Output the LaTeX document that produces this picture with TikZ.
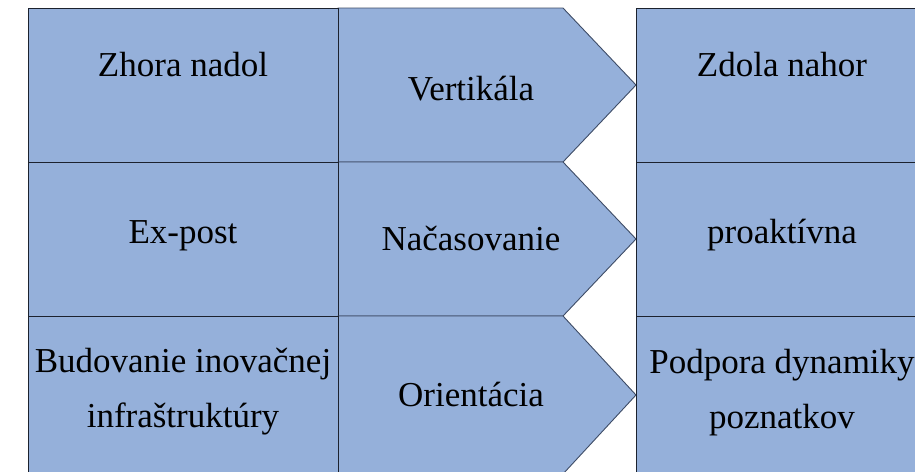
\documentclass[tikz,border=0pt]{standalone}
\usepackage{fontspec}
\setmainfont{Liberation Serif}
\definecolor{cellfill}{RGB}{149,176,218}
\definecolor{cellline}{RGB}{28,34,46}
\definecolor{chevronline}{RGB}{62,76,102}
\tikzset{
  cell/.style={fill=cellfill, draw=cellline, line width=0.9pt},
  chevron/.style={fill=cellfill, draw=chevronline, line width=0.9pt},
  txt/.style={font=\fontsize{35}{55}\selectfont, align=center, inner sep=0pt, anchor=base}
}
\begin{document}
\begin{tikzpicture}[x=1pt,y=-1pt]
      \clip (0,0) rectangle (915,471);
      \foreach \ytop/\ybot in {8/162,162/316,316/474}{
        \pgfmathsetmacro{\ymid}{(\ytop+\ybot)/2}
        \draw[chevron] (338,\ytop) -- (563,\ytop) -- (636,\ymid) -- (563,\ybot) -- (338,\ybot) -- cycle;
        \draw[cell] (28,\ytop) rectangle (338,\ybot);
        \draw[cell] (636,\ytop) rectangle (930,\ybot);
      }
      % texts
      \node[txt] (zhora) at (183,76) {Zhora nadol};
      \node[txt] (vert) at (471,100) {Vertikála};
      \node[txt] (zdola) at (782,76) {Zdola nahor};
      \node[txt] (expost) at (183,243) {Ex-post};
      \node[txt] (nacas) at (471,250) {Načasovanie};
      \node[txt] (proakt) at (782,243) {proaktívna};
      \node[txt] (budov) at (183,427) {Budovanie inovačnej\\infraštruktúry};
      \node[txt] (orient) at (471,406) {Orientácia};
      \node[txt] (podpora) at (782,428) {Podpora dynamiky\\poznatkov};
    \end{tikzpicture}
\end{document}
